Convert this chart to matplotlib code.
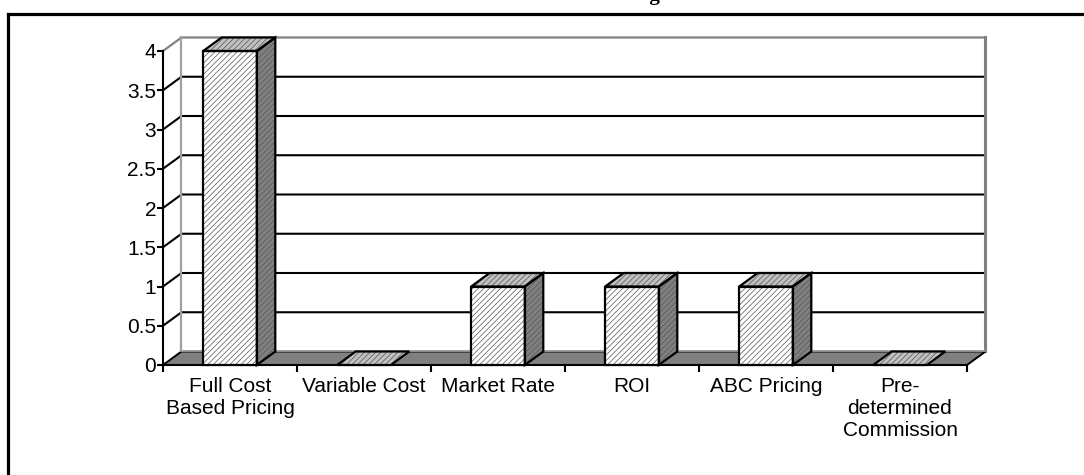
import matplotlib.pyplot as plt
from matplotlib.lines import Line2D
from matplotlib.patches import Polygon

plt.rcParams["font.family"] = ["Liberation Sans", "DejaVu Sans"]
plt.rcParams["hatch.linewidth"] = 0.5

categories = ["Full Cost\nBased Pricing", "Variable Cost", "Market Rate", "ROI",
              "ABC Pricing", "Pre-\ndetermined\nCommission"]
values = [4, 0, 1, 1, 1, 0]
y_ticks = [0, 0.5, 1, 1.5, 2, 2.5, 3, 3.5, 4]
y_tick_labels = ["0", "0.5", "1", "1.5", "2", "2.5", "3", "3.5", "4"]

W, H = 1084, 475
DEPTH_X = 0.138   # depth offset in category units
DEPTH_Y = 0.172   # depth offset in value units
BAR_HALF = 0.2
HATCH = "//////"
HATCH_COLOR = "#555555"


def face(ax, pts, color, z):
    # hatched fill, then a black outline on top
    ax.add_patch(Polygon(pts, closed=True, facecolor=color, edgecolor=HATCH_COLOR,
                         hatch=HATCH, linewidth=0, zorder=z, clip_on=False))
    ax.add_patch(Polygon(pts, closed=True, facecolor="none", edgecolor="black",
                         linewidth=1.6, joinstyle="miter", zorder=z + 0.1, clip_on=False))


fig = plt.figure(figsize=(W / 100, H / 100), dpi=100)
ax = fig.add_axes([163 / W, (H - 365) / H, 804 / W, 314 / H])
n = len(categories)
ymax = max(y_ticks)
ax.set_xlim(0, n)
ax.set_ylim(0, ymax)

# outer frame
fig.add_artist(Line2D([8 / W, 1.01], [(H - 14) / H] * 2, color="black", lw=2.3,
                      transform=fig.transFigure))
fig.add_artist(Line2D([8 / W] * 2, [(H - 14) / H, -0.01], color="black", lw=2.3,
                      transform=fig.transFigure))
# title sits above the picture, only its descender shows
fig.text(660 / W, 1.0, "Pricing", ha="right", va="baseline", fontsize=15,
         fontweight="bold", family="Liberation Serif")

# back wall gridlines and side-wall diagonals
for v in y_ticks[1:-1]:
    ax.plot([0, DEPTH_X, n + DEPTH_X], [v, v + DEPTH_Y, v + DEPTH_Y], color="black",
            lw=1.5, zorder=1, clip_on=False, solid_joinstyle="miter")
ax.plot([0, DEPTH_X, n + DEPTH_X], [ymax, ymax + DEPTH_Y, ymax + DEPTH_Y],
        color="#808080", lw=1.6, zorder=1, clip_on=False)
ax.plot([DEPTH_X, DEPTH_X], [DEPTH_Y, ymax + DEPTH_Y], color="#a0a0a0", lw=1.6,
        zorder=1, clip_on=False)
ax.plot([n + DEPTH_X, n + DEPTH_X], [DEPTH_Y, ymax + DEPTH_Y], color="#808080", lw=2.2,
        zorder=1, clip_on=False)

# floor
ax.add_patch(Polygon([(0, 0), (n, 0), (n + DEPTH_X, DEPTH_Y), (DEPTH_X, DEPTH_Y)],
                     closed=True, facecolor="#808080", edgecolor="black", lw=1.4,
                     zorder=2, clip_on=False))
ax.plot([DEPTH_X, n + DEPTH_X], [DEPTH_Y, DEPTH_Y], color="#a8a8a8", lw=1.2, zorder=2.05,
        clip_on=False)

# bars
for i, v in enumerate(values):
    c = i + 0.5
    l, r = c - BAR_HALF, c + BAR_HALF
    z = 3 + i
    if v > 0:
        face(ax, [(l, 0), (r, 0), (r, v), (l, v)], "white", z)
        face(ax, [(r, 0), (r + DEPTH_X, DEPTH_Y), (r + DEPTH_X, v + DEPTH_Y), (r, v)],
             "#808080", z)
    face(ax, [(l, v), (l + DEPTH_X, v + DEPTH_Y), (r + DEPTH_X, v + DEPTH_Y), (r, v)],
         "#c0c0c0", z)

# front axes
for side in ["top", "right"]:
    ax.spines[side].set_visible(False)
for side in ["left", "bottom"]:
    ax.spines[side].set_linewidth(1.5)
    ax.spines[side].set_zorder(2.5)
ax.set_facecolor("none")
ax.set_yticks(y_ticks)
ax.set_yticklabels(y_tick_labels)
ax.tick_params(axis="y", direction="out", length=4, width=1.5, pad=1, labelsize=15)
ax.set_xticks(range(n + 1))
ax.set_xticklabels([])
ax.set_xticks([i + 0.5 for i in range(n)], minor=True)
ax.set_xticklabels(categories, minor=True)
ax.tick_params(axis="x", which="major", direction="out", length=5, width=1.5)
ax.tick_params(axis="x", which="minor", length=0, pad=9, labelsize=15)

fig.savefig("out.png", dpi=100)
